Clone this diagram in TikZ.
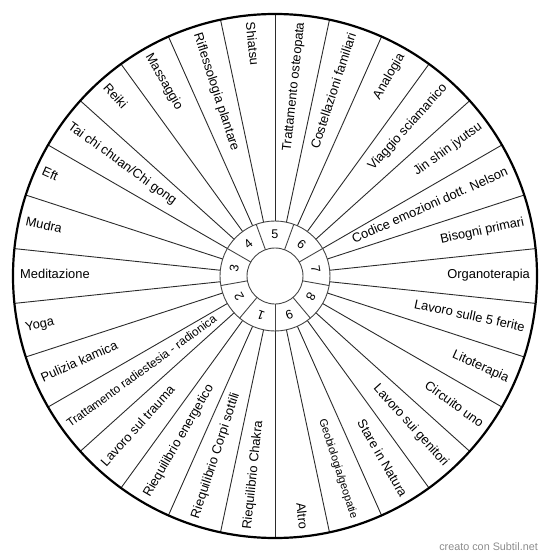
\documentclass[tikz,border=0pt]{standalone}
\usepackage{fontspec}
\setmainfont{Liberation Sans}
\definecolor{spokeGrey}{HTML}{2b2b2b}
\definecolor{ringGrey}{HTML}{444444}
\definecolor{creditGrey}{HTML}{8c8c8c}

\begin{document}
\begin{tikzpicture}[
      lbl/.style={inner sep=0pt, font=\fontsize{12.9}{14}\selectfont,
                  text height=0.72em, text depth=0.2em},
      lblr/.style={lbl, anchor=east, rotate=#1},
      lbll/.style={lbl, anchor=west, rotate=#1+180},
      num/.style={inner sep=0pt, font=\fontsize{12.6}{14}\selectfont, rotate=#1-90},
      spoke/.style={draw=spokeGrey, line width=0.9pt},
      ring/.style={draw=ringGrey, line width=0.9pt},
      credit/.style={inner sep=0pt, text=creditGrey, font=\fontsize{10.8}{12}\selectfont}
    ]
    \useasboundingbox (-275pt,-284pt) rectangle (275pt,276pt);
    \coordinate (c) at (0,0);

    % spokes and rings
    \foreach \a in {0,...,29}
      \draw[spoke] (90-12*\a:55pt) -- (90-12*\a:262pt);
    \foreach \a in {0,...,8}
      \draw[ring] (110-40*\a:28pt) -- (110-40*\a:55pt);
    \draw[ring] (c) circle[radius=55pt];
    \draw[ring] (c) circle[radius=28pt];
    \draw[line width=2.2pt] (c) circle[radius=262pt];

    % numbers
    \node[num=90]   (d5) at (90:41.5pt)   {5};
    \node[num=50]   (d6) at (50:41.5pt)   {6};
    \node[num=10]   (d7) at (10:41.5pt)   {7};
    \node[num=-30]  (d8) at (-30:41.5pt)  {8};
    \node[num=-70]  (d9) at (-70:41.5pt)  {9};
    \node[num=-110] (d1) at (-110:41.5pt) {1};
    \node[num=-150] (d2) at (-150:41.5pt) {2};
    \node[num=170]  (d3) at (170:41.5pt)  {3};
    \node[num=130]  (d4) at (130:41.5pt)  {4};

    % right half
    \node[lblr=84]  (osteo)   at (84:255pt)  {Trattamento osteopata};
    \node[lblr=72]  (costel)  at (72:255pt)  {Costellazioni familiari};
    \node[lblr=60]  (analog)  at (60:255pt)  {Analogia};
    \node[lblr=48]  (viaggio) at (48:255pt)  {Viaggio sciamanico};
    \node[lblr=36]  (jinshin) at (36:255pt)  {Jin shin jyutsu};
    \node[lblr=24]  (nelson)  at (24:255pt)  {Codice emozioni dott. Nelson};
    \node[lblr=12]  (bisogni) at (12:255pt)  {Bisogni primari};
    \node[lblr=0]   (organo)  at (0:255pt)   {Organoterapia};
    \node[lblr=-12] (ferite)  at (-12:255pt) {Lavoro sulle 5 ferite};
    \node[lblr=-24] (lito)    at (-24:255pt) {Litoterapia};
    \node[lblr=-36] (circuito) at (-36:255pt) {Circuito uno};
    \node[lblr=-48] (genitori) at (-48:255pt) {Lavoro sui genitori};
    \node[lblr=-60] (natura)  at (-60:255pt) {Stare in Natura};
    \node[lblr=-72, font=\fontsize{11}{12}\selectfont] (geobio) at (-72:255pt) {Geobiologia/geopatie};
    \node[lblr=-84] (altro)   at (-84:255pt) {Altro};

    % left half
    \node[lbll=-96]  (chakra)  at (-96:255pt)  {Riequilibrio Chakra};
    \node[lbll=-108] (corpi)   at (-108:255pt) {Riequilibrio Corpi sottili};
    \node[lbll=-120] (energ)   at (-120:255pt) {Riequilibrio energetico};
    \node[lbll=-132] (trauma)  at (-132:255pt) {Lavoro sul trauma};
    \node[lbll=-144, font=\fontsize{11.8}{13}\selectfont] (radio) at (-144:255pt) {Trattamento radiestesia - radionica};
    \node[lbll=-156] (pulizia) at (-156:255pt) {Pulizia kamica};
    \node[lbll=-168] (yoga)    at (-168:255pt) {Yoga};
    \node[lbll=180]  (medit)   at (180:255pt)  {Meditazione};
    \node[lbll=168]  (mudra)   at (168:255pt)  {Mudra};
    \node[lbll=156]  (eft)     at (156:255pt)  {Eft};
    \node[lbll=144]  (taichi)  at (144:255pt)  {Tai chi chuan/Chi gong};
    \node[lbll=132]  (reiki)   at (132:255pt)  {Reiki};
    \node[lbll=120]  (massag)  at (120:255pt)  {Massaggio};
    \node[lbll=108]  (rifless) at (108:255pt)  {Riflessologia plantare};
    \node[lbll=96]   (shiatsu) at (96:255pt)   {Shiatsu};

    \node[credit, anchor=east] (footer) at (263pt,-271pt) {creato con Subtil.net};
  \end{tikzpicture}
\end{document}
